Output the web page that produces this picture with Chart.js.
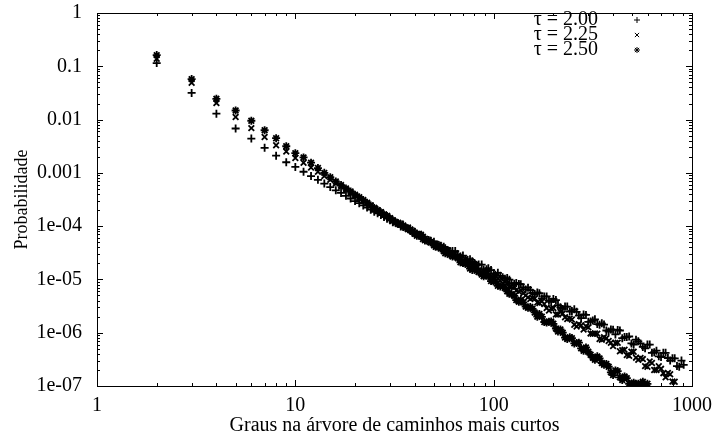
<!DOCTYPE html>
<html>
<head>
<meta charset="utf-8">
<script src="https://cdn.jsdelivr.net/npm/chart.js@4.4.0/dist/chart.umd.min.js"></script>
<style>
  html, body { margin: 0; padding: 0; background: #fff; }
  #caixa { width: 714px; height: 439px; }
</style>
</head>
<body>
<div id="caixa"><canvas id="grafico"></canvas></div>
<script>
// Graus (k) e probabilidade P(k) para cada valor de tau
const graus = [2, 3, 4, 5, 6, 7, 8, 9, 10, 11, 12, 13, 14, 15, 16, 17, 18, 19, 20, 21, 22, 23, 24, 25, 26, 27, 28, 29, 30,
  32, 34, 36, 38, 40, 42, 44, 47, 50, 53, 56, 59, 62, 66, 70, 74, 78, 82, 87, 92, 97, 102, 108, 114, 120, 127, 134, 141,
  149, 157, 166, 175, 185, 195, 206, 217, 229, 242, 255, 269, 284, 300, 316, 333, 351, 370, 390, 411, 433, 457, 482,
  508, 536, 565, 596, 628, 662, 698, 736, 776, 818, 862, 908];

const probTau200 = [0.115, 0.0316, 0.0129, 6.8e-3, 4.4e-3, 2.95e-3, 2.1e-3, 1.58e-3, 1.29e-3, 1.05e-3, 8.7e-4, 7.4e-4,
  6.3e-4, 5.4e-4, 4.7e-4, 4.2e-4, 3.7e-4, 3.3e-4, 2.95e-4, 2.7e-4, 2.45e-4, 2.24e-4, 2.04e-4, 1.86e-4, 1.74e-4, 1.62e-4,
  1.48e-4, 1.38e-4, 1.29e-4,
  1.17e-4, 9.8e-5, 9.3e-5, 8.1e-5, 7.8e-5, 6.6e-5, 6.3e-5, 5.5e-5, 5.1e-5, 4.4e-5, 4.1e-5, 3.5e-5, 3.4e-5, 2.9e-5,
  2.8e-5, 2.2e-5, 2.2e-5, 1.86e-5, 1.9e-5, 1.55e-5, 1.5e-5, 1.23e-5, 1.17e-5, 1.03e-5, 9.9e-6, 8.3e-6, 8.2e-6, 7.1e-6,
  7.0e-6, 5.6e-6, 5.7e-6, 4.4e-6, 4.8e-6, 3.8e-6, 4.1e-6, 3.0e-6, 3.1e-6, 2.5e-6, 2.75e-6, 2.1e-6, 2.2e-6, 1.6e-6,
  1.7e-6, 1.45e-6, 1.5e-6, 1.1e-6, 1.15e-6, 9.3e-7, 1.1e-6, 8.3e-7, 8.5e-7, 6.0e-7, 6.9e-7, 5.4e-7, 6.0e-7, 4.2e-7,
  4.6e-7, 3.5e-7, 4.2e-7, 3.0e-7, 3.3e-7, 2.3e-7, 2.5e-7];

const probTau225 = [0.138, 0.049, 0.0204, 0.0112, 6.9e-3, 4.7e-3, 3.3e-3, 2.51e-3, 1.9e-3, 1.55e-3, 1.26e-3, 1.05e-3,
  8.7e-4, 7.4e-4, 6.3e-4, 5.5e-4, 4.8e-4, 4.2e-4, 3.7e-4, 3.3e-4, 2.95e-4, 2.7e-4, 2.45e-4, 2.19e-4, 2.0e-4, 1.82e-4,
  1.66e-4, 1.55e-4, 1.41e-4,
  1.2e-4, 1.12e-4, 9.5e-5, 8.7e-5, 7.4e-5, 7.2e-5, 6.3e-5, 5.5e-5, 4.7e-5, 4.4e-5, 3.7e-5, 3.5e-5, 3.0e-5, 2.75e-5,
  2.2e-5, 2.2e-5, 1.86e-5, 1.78e-5, 1.41e-5, 1.38e-5, 1.15e-5, 1.16e-5, 9.5e-6, 8.9e-6, 7.2e-6, 7.3e-6, 5.9e-6, 5.5e-6,
  4.6e-6, 4.5e-6, 3.7e-6, 3.9e-6, 2.9e-6, 2.85e-6, 2.2e-6, 2.45e-6, 1.95e-6, 1.86e-6, 1.41e-6, 1.45e-6, 1.15e-6,
  1.26e-6, 9.5e-7, 9.6e-7, 7.4e-7, 7.9e-7, 6.5e-7, 6.4e-7, 4.5e-7, 4.8e-7, 3.7e-7, 4.4e-7, 3.1e-7, 3.2e-7, 2.3e-7,
  2.7e-7, 2.0e-7, 2.1e-7, 1.45e-7, 1.66e-7, 1.2e-7, null, null];

const probTau250 = [0.162, 0.0575, 0.0245, 0.0148, 9.5e-3, 6.3e-3, 4.47e-3, 3.16e-3, 2.34e-3, 1.95e-3, 1.55e-3, 1.23e-3,
  1.0e-3, 8.3e-4, 6.9e-4, 5.9e-4, 5.1e-4, 4.47e-4, 3.9e-4, 3.5e-4, 3.1e-4, 2.75e-4, 2.45e-4, 2.19e-4, 2.0e-4, 1.82e-4,
  1.66e-4, 1.55e-4, 1.41e-4,
  1.18e-4, 1.07e-4, 9.3e-5, 8.5e-5, 7.2e-5, 6.8e-5, 5.75e-5, 5.2e-5, 4.35e-5, 4.05e-5, 3.4e-5, 3.1e-5, 2.7e-5, 2.5e-5,
  2.04e-5, 1.9e-5, 1.51e-5, 1.45e-5, 1.23e-5, 1.18e-5, 9.3e-6, 9.1e-6, 7.4e-6, 6.9e-6, 5.4e-6, 4.9e-6, 3.8e-6, 3.7e-6,
  2.95e-6, 2.8e-6, 2.0e-6, 1.99e-6, 1.55e-6, 1.62e-6, 1.2e-6, 1.15e-6, 8.1e-7, 8.2e-7, 6.3e-7, 6.5e-7, 4.6e-7, 4.4e-7,
  3.4e-7, 3.6e-7, 2.7e-7, 2.6e-7, 1.8e-7, 1.95e-7, 1.45e-7, 1.51e-7, 1.1e-7, 1.15e-7, 1.1e-7, 1.2e-7, 1.1e-7,
  null, null, null, null, null, null, null, null];

// Graus intermediarios da cauda (entre os valores acima)
const grausMeio = [31, 33, 35, 37, 39, 41, 43, 45, 48, 51, 54, 57, 60, 64, 68, 72, 76, 80, 84, 89, 94, 100, 105, 111,
  117, 123, 130, 137, 145, 153, 161, 170, 180, 190, 200, 211, 223, 235, 248, 262, 276, 292, 308, 324, 342, 360, 380,
  400, 422, 445, 469, 495, 522, 550, 580, 612, 645, 680, 717, 756, 797, 840, 885];

const probTau200Meio = [1.18e-4, 1.12e-4, 9.6e-5, 8.9e-5, 7.5e-5, 7.3e-5, 6.8e-5, 5.7e-5, 5.3e-5, 4.5e-5, 4.3e-5,
  3.85e-5, 3.4e-5, 3.4e-5, 2.7e-5, 2.35e-5, 2.4e-5, 2.04e-5, 1.91e-5, 1.53e-5, 1.62e-5, 1.3e-5, 1.33e-5, 1.1e-5,
  1.06e-5, 8.5e-6, 8.6e-6, 8.1e-6, 6.5e-6, 6.3e-6, 5.3e-6, 5.5e-6, 4.8e-6, 4.0e-6, 4.3e-6, 3.3e-6, 2.8e-6, 3.1e-6,
  2.55e-6, 2.47e-6, 1.88e-6, 2.16e-6, 1.62e-6, 1.78e-6, 1.41e-6, 1.42e-6, 1.05e-6, 1.14e-6, 1.13e-6, 7.9e-7, 8.3e-7,
  6.3e-7, 7.4e-7, 6.3e-7, 5.1e-7, 6.0e-7, 4.3e-7, 3.6e-7, 4.2e-7, 3.35e-7, 3.3e-7, 2.37e-7, 3.0e-7];

const probTau225Meio = [1.28e-4, 1.16e-4, 9.8e-5, 9.4e-5, 8.2e-5, 7.2e-5, 6.9e-5, 5.8e-5, 5.0e-5, 4.7e-5, 4.0e-5,
  3.7e-5, 3.1e-5, 3.1e-5, 2.4e-5, 2.42e-5, 1.97e-5, 1.87e-5, 1.48e-5, 1.46e-5, 1.35e-5, 1.07e-5, 1.03e-5, 8.4e-6,
  8.5e-6, 7.3e-6, 6.2e-6, 6.3e-6, 5.0e-6, 4.3e-6, 4.4e-6, 3.6e-6, 3.45e-6, 2.6e-6, 2.9e-6, 2.2e-6, 2.3e-6, 1.8e-6,
  1.77e-6, 1.31e-6, 1.38e-6, 1.32e-6, 9.7e-7, 9.65e-7, 7.6e-7, 8.2e-7, 7.0e-7, 5.6e-7, 6.5e-7, 4.7e-7, 3.8e-7,
  4.4e-7, 3.4e-7, 3.35e-7, 2.36e-7, 2.9e-7, 2.0e-7, 2.35e-7, 1.74e-7, 1.75e-7, 1.21e-7, null, null];

const probTau250Meio = [1.29e-4, 1.1e-4, 1.03e-4, 8.7e-5, 7.9e-5, 6.6e-5, 6.5e-5, 5.4e-5, 5.0e-5, 4.1e-5, 3.8e-5,
  3.1e-5, 2.9e-5, 2.7e-5, 2.1e-5, 1.97e-5, 1.6e-5, 1.62e-5, 1.38e-5, 1.15e-5, 1.14e-5, 9.1e-6, 7.6e-6, 7.4e-6, 6.0e-6,
  5.3e-6, 4.1e-6, 4.1e-6, 3.1e-6, 3.05e-6, 2.4e-6, 2.24e-6, 1.59e-6, 1.61e-6, 1.47e-6, 1.05e-6, 1.0e-6, 7.6e-7,
  7.9e-7, 6.4e-7, 5.1e-7, 5.3e-7, 3.85e-7, 3.1e-7, 3.3e-7, 2.5e-7, 2.3e-7, 1.6e-7, 1.9e-7, 1.29e-7, 1.4e-7, 1.1e-7,
  1.05e-7, 1.1e-7, 1.05e-7, null, null, null, null, null, null, null, null];

const nomesSeries = ['τ = 2.00', 'τ = 2.25', 'τ = 2.50'];
const estilosSeries = ['cross', 'crossRot', 'star'];

const xTicks = [1, 10, 100, 1000];
const xTickLabels = ['1', '10', '100', '1000'];
const yTicks = [1, 0.1, 0.01, 0.001, 1e-4, 1e-5, 1e-6, 1e-7];
const yTickLabels = ['1', '0.1', '0.01', '0.001', '1e-04', '1e-05', '1e-06', '1e-07'];

const FONTE = "'Liberation Serif', 'Times New Roman', serif";

function montarPontos(listaGraus, probs) {
  const pts = [];
  listaGraus.forEach((k, i) => {
    if (probs[i] != null) pts.push({ x: k, y: probs[i] });
  });
  return pts;
}

const series = [
  montarPontos(graus, probTau200).concat(montarPontos(grausMeio, probTau200Meio)),
  montarPontos(graus, probTau225).concat(montarPontos(grausMeio, probTau225Meio)),
  montarPontos(graus, probTau250).concat(montarPontos(grausMeio, probTau250Meio))
];

// Moldura com marcas internas (principais e secundarias) e legenda dentro da area
const molduraPlugin = {
  id: 'moldura',
  afterDraw(chart) {
    const { ctx, chartArea: a, scales } = chart;
    const sx = scales.x, sy = scales.y;
    ctx.save();
    ctx.strokeStyle = '#000';
    ctx.lineWidth = 1;
    ctx.strokeRect(a.left + 0.5, a.top + 0.5, a.right - a.left, a.bottom - a.top);

    ctx.beginPath();
    for (let e = 0; e <= 2; e++) {
      for (let m = 1; m <= 9; m++) {
        const px = Math.round(sx.getPixelForValue(m * Math.pow(10, e))) + 0.5;
        const len = m === 1 ? 6 : 3;
        ctx.moveTo(px, a.bottom); ctx.lineTo(px, a.bottom - len);
        ctx.moveTo(px, a.top); ctx.lineTo(px, a.top + len);
      }
    }
    for (let e = -7; e <= -1; e++) {
      for (let m = 1; m <= 9; m++) {
        const py = Math.round(sy.getPixelForValue(m * Math.pow(10, e))) + 0.5;
        const len = m === 1 ? 6 : 3;
        ctx.moveTo(a.left, py); ctx.lineTo(a.left + len, py);
        ctx.moveTo(a.right, py); ctx.lineTo(a.right - len, py);
      }
    }
    ctx.stroke();

    // legenda
    ctx.font = '20px ' + FONTE;
    ctx.fillStyle = '#000';
    ctx.textAlign = 'right';
    ctx.textBaseline = 'middle';
    nomesSeries.forEach((nome, i) => {
      const y = a.top + 7 + i * 15;
      ctx.fillText(nome, 598, y);
      Chart.helpers.drawPoint(ctx, { pointStyle: estilosSeries[i], radius: 3, borderWidth: 1.2 }, 637, y);
    });
    ctx.restore();
  }
};

const ctx = document.getElementById('grafico').getContext('2d');

const grafico = new Chart(ctx, {
  type: 'scatter',
  data: {
    datasets: series.map((pts, i) => ({
      label: nomesSeries[i],
      data: pts,
      pointStyle: estilosSeries[i],
      pointRadius: 4,
      pointBorderWidth: 1.8,
      borderColor: '#000',
      backgroundColor: '#000',
      showLine: false
    }))
  },
  options: {
    responsive: true,
    maintainAspectRatio: false,
    animation: false,
    layout: { padding: { top: 13, right: 22, bottom: 0, left: 0 } },
    plugins: { legend: { display: false }, tooltip: { enabled: false } },
    scales: {
      x: {
        type: 'logarithmic',
        min: 1,
        max: 1000,
        afterBuildTicks: s => { s.ticks = xTicks.map(v => ({ value: v })); },
        afterFit: s => { s.height = 53; s.paddingLeft = 0; s.paddingRight = 0; },
        grid: { display: false, drawTicks: false },
        border: { display: false },
        ticks: {
          autoSkip: false,
          maxRotation: 0,
          padding: 8,
          color: '#000',
          font: { family: FONTE, size: 20 },
          callback: v => xTickLabels[xTicks.indexOf(v)]
        },
        title: {
          display: true,
          text: 'Graus na árvore de caminhos mais curtos',
          color: '#000',
          font: { family: FONTE, size: 20 },
          padding: { top: 0, bottom: 1 }
        }
      },
      y: {
        type: 'logarithmic',
        min: 1e-7,
        max: 1,
        afterBuildTicks: s => { s.ticks = yTicks.map(v => ({ value: v })); },
        afterFit: s => { s.width = 97; s.paddingTop = 0; s.paddingBottom = 0; },
        grid: { display: false, drawTicks: false },
        border: { display: false },
        ticks: {
          autoSkip: false,
          padding: 15,
          color: '#000',
          font: { family: FONTE, size: 20 },
          callback: v => yTickLabels[yTicks.indexOf(v)]
        },
        title: {
          display: true,
          text: 'Probabilidade',
          color: '#000',
          font: { family: FONTE, size: 18 },
          padding: { top: 11, bottom: 0 }
        }
      }
    }
  },
  plugins: [molduraPlugin]
});

// acerta o padding para a area de plotagem ficar em 97..692 x 13..386
const AREA = { left: 97, top: 13, right: 692, bottom: 386 };
const a0 = grafico.chartArea;
const p0 = grafico.options.layout.padding;
grafico.options.layout.padding = {
  left: p0.left + AREA.left - a0.left,
  top: p0.top + AREA.top - a0.top,
  right: p0.right + a0.right - AREA.right,
  bottom: p0.bottom + a0.bottom - AREA.bottom
};
grafico.update();
</script>
</body>
</html>
